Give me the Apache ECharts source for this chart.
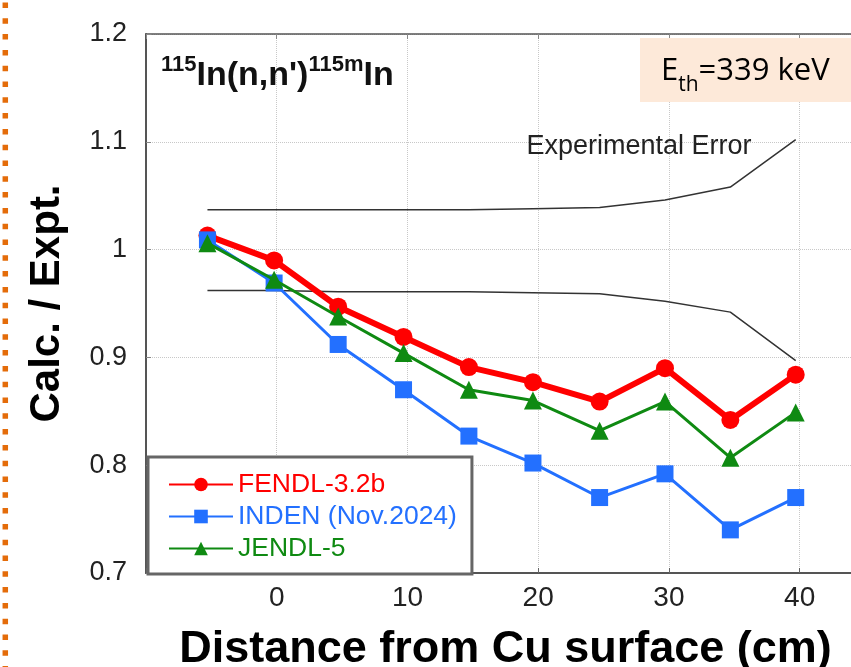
<!DOCTYPE html>
<html>
<head>
<meta charset="utf-8">
<script src="https://cdn.jsdelivr.net/npm/echarts@6/dist/echarts.min.js"></script>
<style>
html,body{margin:0;padding:0;background:#fff;}
#chart{width:851px;height:667px;}
</style>
</head>
<body>
<div id="chart"></div>
<script>
// ---- data ----
const distance = [-5.3, -0.2, 4.7, 9.7, 14.7, 19.6, 24.7, 29.7, 34.7, 39.7];
const fendl = [1.013, 0.990, 0.947, 0.919, 0.891, 0.877, 0.859, 0.890, 0.842, 0.884];
const inden = [1.009, 0.969, 0.912, 0.870, 0.827, 0.802, 0.770, 0.792, 0.740, 0.770];
const jendl = [1.006, 0.972, 0.938, 0.904, 0.870, 0.860, 0.832, 0.859, 0.807, 0.849];
const errUpper = [1.037, 1.037, 1.037, 1.037, 1.037, 1.038, 1.039, 1.046, 1.058, 1.102];
const errLower = [0.962, 0.962, 0.961, 0.961, 0.961, 0.960, 0.959, 0.952, 0.942, 0.897];
const seriesNames = ['FENDL-3.2b', 'INDEN (Nov.2024)', 'JENDL-5'];
const xTickLabels = [0, 10, 20, 30, 40];
const yTickLabels = ['0.7', '0.8', '0.9', '1', '1.1', '1.2'];
const yAxisTitle = 'Calc. / Expt.';
const xAxisTitle = 'Distance from Cu surface (cm)';
const errorLabel = 'Experimental Error';

const pairs = ys => distance.map((x, i) => [x, ys[i]]);
const SANS = "'Liberation Sans', Arial, Helvetica, sans-serif";
const RED = '#ff0000', BLUE = '#2370ff', GREEN = '#0f8a12';

const chart = echarts.init(document.getElementById('chart'), null, {renderer: 'canvas'});
chart.setOption({
  animation: false,
  backgroundColor: '#fff',
  grid: {left: 146, top: 34, width: 719, height: 539, containLabel: false, outerBoundsMode: 'none'},
  xAxis: [{
    type: 'value', position: 'bottom', min: -10, max: 45, interval: 10,
    name: xAxisTitle, nameLocation: 'middle', nameGap: 54,
    nameTextStyle: {fontFamily: SANS, fontWeight: 'bold', fontSize: 45, color: '#000'},
    axisLine: {show: true, onZero: false, lineStyle: {color: '#555', width: 2}},
    axisTick: {show: true, inside: true, length: 5, lineStyle: {color: '#666'}},
    splitLine: {show: true, lineStyle: {type: 'dotted', color: '#c8c8c8', width: 1}},
    axisLabel: {
      fontFamily: SANS, fontSize: 28, color: '#222', margin: 11,
      formatter: v => (xTickLabels.indexOf(v) >= 0 ? String(v) : '')
    }
  }, {
    type: 'value', position: 'top', min: -10, max: 45, interval: 10,
    axisLine: {show: true, onZero: false, lineStyle: {color: '#555', width: 1.5}},
    axisTick: {show: true, inside: true, length: 5, lineStyle: {color: '#888'}},
    axisLabel: {show: false}, splitLine: {show: false}
  }],
  yAxis: {
    type: 'value', min: 0.7, max: 1.2, interval: 0.1,
    name: yAxisTitle, nameLocation: 'middle', nameGap: 78, nameRotate: 90,
    nameTextStyle: {fontFamily: SANS, fontWeight: 'bold', fontSize: 42, color: '#000'},
    axisLine: {show: true, onZero: false, lineStyle: {color: '#555', width: 2}},
    axisTick: {show: true, inside: true, length: 5, lineStyle: {color: '#888'}},
    splitLine: {show: true, lineStyle: {type: 'dotted', color: '#c8c8c8', width: 1}},
    axisLabel: {
      fontFamily: SANS, fontSize: 27, color: '#222', margin: 19,
      padding: [0, 0, 8, 0],
      formatter: v => {
        const s = String(parseFloat(v.toFixed(1)));
        return yTickLabels.indexOf(s) >= 0 ? s : '';
      }
    }
  },
  legend: {
    orient: 'vertical', left: 148, top: 457,
    padding: [14, 15, 12, 20], itemGap: 5, itemWidth: 64, itemHeight: 17,
    backgroundColor: '#fff', borderColor: '#666', borderWidth: 3,
    textStyle: {fontFamily: SANS, fontSize: 26.5, lineHeight: 26},
    data: [
      {name: seriesNames[0], textStyle: {color: RED}},
      {name: seriesNames[1], textStyle: {color: BLUE}},
      {name: seriesNames[2], textStyle: {color: GREEN}}
    ]
  },
  series: [
    {name: 'errUpper', type: 'line', data: pairs(errUpper), showSymbol: false, silent: true,
     lineStyle: {color: '#333', width: 1.5}, z: 1},
    {name: 'errLower', type: 'line', data: pairs(errLower), showSymbol: false, silent: true,
     lineStyle: {color: '#333', width: 1.5}, z: 1},
    {name: seriesNames[0], type: 'line', data: pairs(fendl), symbol: 'circle', symbolSize: 18,
     lineStyle: {color: RED, width: 6}, itemStyle: {color: RED}, z: 3},
    {name: seriesNames[1], type: 'line', data: pairs(inden), symbol: 'rect', symbolSize: 17,
     lineStyle: {color: BLUE, width: 3}, itemStyle: {color: BLUE}, z: 4},
    {name: seriesNames[2], type: 'line', data: pairs(jendl), symbol: 'triangle', symbolSize: 18,
     lineStyle: {color: GREEN, width: 3}, itemStyle: {color: GREEN}, z: 5}
  ],
  graphic: [
    {type: 'line', silent: true, shape: {x1: 5.3, y1: 2.5, x2: 5.3, y2: 667},
     style: {stroke: '#E46C0A', lineWidth: 5.5, lineDash: [5.5, 10.3]}},
    {type: 'text', silent: true, x: 639, y: 147, z: 10,
     style: {text: errorLabel, fill: '#222', font: '27px ' + SANS, align: 'center', verticalAlign: 'middle'}},
    {type: 'text', silent: true, x: 161, y: 51, z: 10,
     style: {
       text: '{s|115}{m|In(n,n\')}{s|115m}{m|In}',
       align: 'left', verticalAlign: 'top',
       rich: {
         s: {fontFamily: SANS, fontWeight: 'bold', fontSize: 22, lineHeight: 22, verticalAlign: 'top', padding: [3, 0, 0, 0], fill: '#111'},
         m: {fontFamily: SANS, fontWeight: 'bold', fontSize: 34, lineHeight: 42, verticalAlign: 'bottom', fill: '#111'}
       }
     }},
    {type: 'rect', silent: true, z: 9, shape: {x: 640, y: 38, width: 215, height: 64},
     style: {fill: '#fde9d9'}},
    {type: 'text', silent: true, x: 661, y: 56, z: 10,
     style: {
       text: '{m|E}{b|th}{m|=339 keV}',
       align: 'left', verticalAlign: 'top',
       rich: {
         m: {fontFamily: "'Open Sans', Lato, sans-serif", fontSize: 31, lineHeight: 40, verticalAlign: 'top', fill: '#000'},
         b: {fontFamily: "'Open Sans', Lato, sans-serif", fontSize: 21, lineHeight: 16, verticalAlign: 'bottom', fill: '#000'}
       }
     }}
  ]
});
</script>
</body>
</html>
